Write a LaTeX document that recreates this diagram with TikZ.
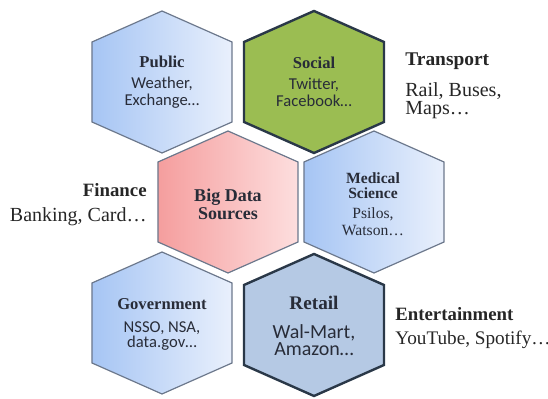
\documentclass[tikz,border=0pt]{standalone}
\usepackage{fontspec}
\setmainfont{Liberation Serif}
\newfontfamily\cellfont{Carlito}
\usetikzlibrary{positioning}
\definecolor{cellblue}{RGB}{166,197,244}
\definecolor{cellbluelight}{RGB}{233,240,252}
\definecolor{cellgreen}{RGB}{155,189,82}
\definecolor{cellpink}{RGB}{245,158,158}
\definecolor{cellpinklight}{RGB}{253,222,222}
\definecolor{cellsteel}{RGB}{181,201,228}
\definecolor{edgegray}{RGB}{108,120,140}
\definecolor{edgedark}{RGB}{42,56,72}
\definecolor{inktext}{RGB}{40,44,56}

% one honeycomb cell, centred on the pic origin
\tikzset{
  hexcell/.pic={
    \path[pic actions] (0,-71) -- (70,-40) -- (70,40) -- (0,71) -- (-70,40) -- (-70,-40) -- cycle;
  }
}

\begin{document}
\begin{tikzpicture}[x=0.5pt, y=-0.5pt,
  lightcell/.style={draw=edgegray, line width=0.6pt, left color=cellblue, right color=cellbluelight},
  greencell/.style={draw=edgedark, line width=1.2pt, fill=cellgreen},
  pinkcell/.style={draw=edgegray, line width=0.6pt, left color=cellpink, right color=cellpinklight},
  steelcell/.style={draw=edgedark, line width=1.2pt, fill=cellsteel},
  celltext/.style={align=center, inner sep=0pt, text=inktext},
  sidetext/.style={inner sep=0pt, text=black!85}
]
\useasboundingbox (0,0) rectangle (548,399);

% cells
\pic[lightcell] at (162,82) {hexcell};
\pic[greencell] at (314,82) {hexcell};
\pic[pinkcell] at (228,202) {hexcell};
\pic[lightcell] at (374,202) {hexcell};
\pic[lightcell] at (162,323) {hexcell};
\pic[steelcell] at (314,325) {hexcell};

% cell labels
\node[celltext, font=\fontsize{8.3}{8.5}\selectfont] (pub) at (162,82)
  {\textbf{Public}\\[2pt]\cellfont Weather,\\\cellfont Exchange…};
\node[celltext, font=\fontsize{8.3}{8.5}\selectfont] (soc) at (314,82)
  {\textbf{Social}\\[2pt]\cellfont Twitter,\\\cellfont Facebook…};
\node[celltext, font=\fontsize{9}{9}\selectfont\bfseries] (bigdata) at (228,204)
  {Big Data\\Sources};
\node[celltext, font=\fontsize{7.8}{7.5}\selectfont] (med) at (373,204)
  {\textbf{Medical}\\\textbf{Science}\\[2.5pt]Psilos,\\[1pt]Watson…};
\node[celltext, font=\fontsize{8.3}{7.5}\selectfont] (gov) at (162,324)
  {\textbf{Government}\\[4pt]\cellfont NSSO, NSA,\\\cellfont data.gov…};
\node[celltext, font=\fontsize{10}{8.5}\selectfont] (ret) at (314,326)
  {\fontsize{9.6}{8.5}\selectfont\textbf{Retail}\\[6pt]\cellfont Wal-Mart,\\\cellfont Amazon…};

% sector labels beside the cells
\node[sidetext, anchor=north west, align=left, font=\fontsize{10}{9}\selectfont] (transport) at (405,52)
  {\fontsize{9.7}{9}\selectfont\textbf{Transport}\\[5.5pt]Rail, Buses,\\Maps…};
\node[sidetext, anchor=north east, align=right, font=\fontsize{10}{9}\selectfont] (finance) at (147,183)
  {\fontsize{9.4}{9}\selectfont\textbf{Finance}\\[3.5pt]Banking, Card…};
\node[sidetext, anchor=north west, align=left, font=\fontsize{9.6}{9}\selectfont] (entertain) at (395,307)
  {\fontsize{9.4}{9}\selectfont\textbf{Entertainment}\\[3pt]YouTube, Spotify…};
\end{tikzpicture}
\end{document}
